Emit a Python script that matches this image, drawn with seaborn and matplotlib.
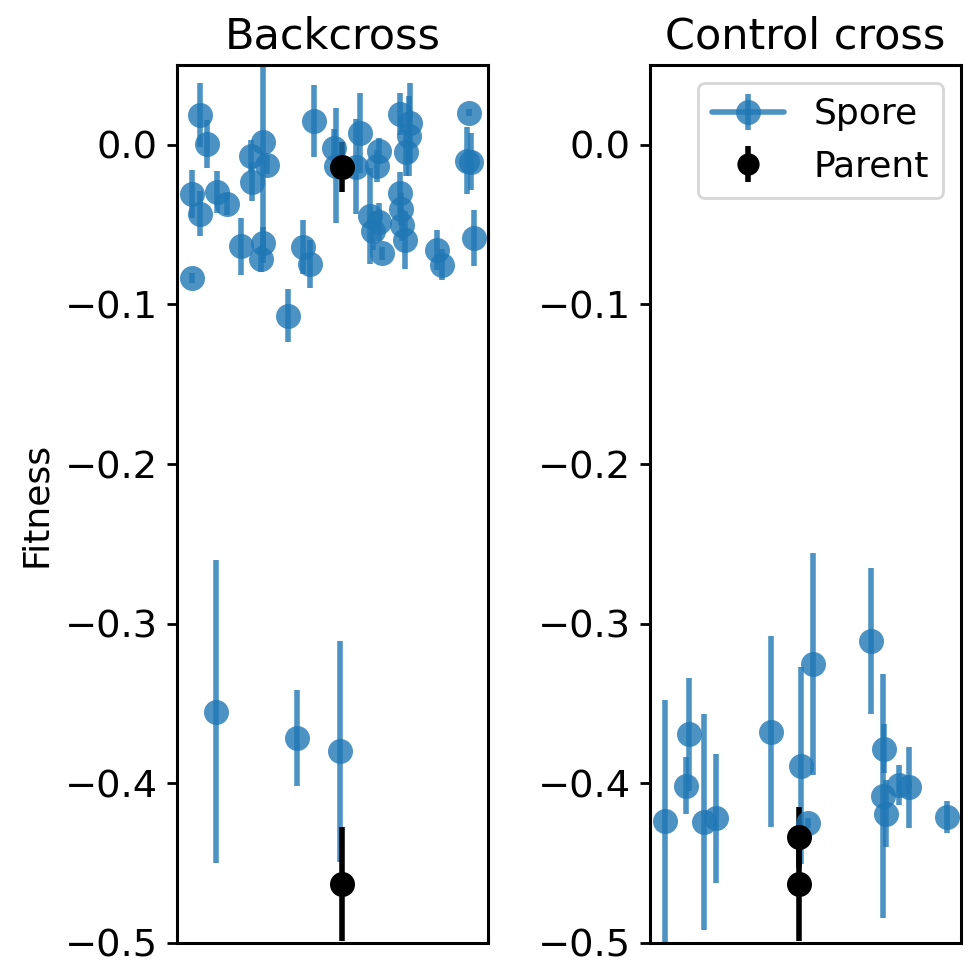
import numpy as np
import seaborn as sns
import matplotlib.pyplot as plt

# backcross spores: x position (jitter), fitness, error
bc_x = [0.074, 0.095, 0.047, 0.074, 0.129, 0.161, 0.049, 0.204, 0.237, 0.239,
        0.277, 0.288, 0.275, 0.268, 0.357, 0.403, 0.426, 0.440, 0.504, 0.510,
        0.574, 0.589, 0.648, 0.643, 0.619, 0.648, 0.629, 0.658, 0.715, 0.749,
        0.745, 0.736, 0.715, 0.720, 0.723, 0.731, 0.834, 0.852, 0.937, 0.931,
        0.943, 0.955, 0.124, 0.386, 0.522]
bc_fit = [0.0188, 0.0004, -0.0307, -0.0432, -0.0297, -0.0370, -0.0835, -0.0637, -0.0069, -0.0230,
          0.0020, -0.0125, -0.0616, -0.0716, -0.1070, -0.0640, -0.0746, 0.0150, -0.0020, -0.0130,
          -0.0136, 0.0073, -0.0036, -0.0130, -0.0445, -0.0484, -0.0537, -0.0680, 0.0194, 0.0136,
          0.0056, -0.0048, -0.0303, -0.0400, -0.0505, -0.0595, -0.0658, -0.0750, 0.0202, -0.0100,
          -0.0105, -0.0585, -0.3550, -0.3716, -0.3800]
bc_err = [0.020, 0.015, 0.015, 0.014, 0.013, 0.007, 0.003, 0.018, 0.010, 0.0125,
          0.076, 0.006, 0.010, 0.008, 0.0165, 0.017, 0.015, 0.0225, 0.012, 0.036,
          0.030, 0.025, 0.008, 0.010, 0.030, 0.012, 0.012, 0.004, 0.013, 0.025,
          0.025, 0.015, 0.013, 0.010, 0.010, 0.018, 0.0125, 0.010, 0.002, 0.021,
          0.018, 0.0177, 0.095, 0.030, 0.069]
bc_par_x = [0.531, 0.531]
bc_par_fit = [-0.014, -0.463]
bc_par_err = [0.0155, 0.0355]

# control cross spores
cc_x = [0.049, 0.115, 0.126, 0.172, 0.212, 0.390, 0.486, 0.523, 0.507,
        0.709, 0.752, 0.747, 0.757, 0.800, 0.832, 0.954]
cc_fit = [-0.4236, -0.4014, -0.3693, -0.4240, -0.4220, -0.3676, -0.3890, -0.3254, -0.4247,
          -0.3108, -0.3784, -0.4079, -0.4190, -0.4010, -0.4025, -0.4213]
cc_err = [0.0757, 0.018, 0.0354, 0.0677, 0.0405, 0.0597, 0.0618, 0.0694, 0.003,
          0.0456, 0.0154, 0.0762, 0.021, 0.0125, 0.0254, 0.010]
cc_par_x = [0.478, 0.478]
cc_par_fit = [-0.4338, -0.463]
cc_par_err = [0.019, 0.0355]

sns.set_theme(style="ticks", rc={
    "axes.edgecolor": "black", "axes.linewidth": 1.1,
    "xtick.color": "black", "ytick.color": "black",
    "ytick.major.size": 3.5, "ytick.major.width": 1.0,
    "axes.labelcolor": "black", "text.color": "black",
})
plt.rcParams['font.family'] = ['DejaVu Sans']
blue = sns.color_palette("tab10")[0]

fig, axes = plt.subplots(1, 2, figsize=(4.84, 4.82), dpi=200)
fig.subplots_adjust(left=0.183, right=0.993, bottom=0.0218, top=0.9326, wspace=0.52)

panels = [
    ("Backcross", bc_x, bc_fit, bc_err, bc_par_x, bc_par_fit, bc_par_err),
    ("Control cross", cc_x, cc_fit, cc_err, cc_par_x, cc_par_fit, cc_par_err),
]
for ax, (title, x, y, e, px, py, pe) in zip(axes, panels):
    ax.errorbar(x, y, yerr=e, fmt='o', color=blue, alpha=0.8, ms=9, mew=0,
                elinewidth=2, capsize=0)
    ax.errorbar(px, py, yerr=pe, fmt='o', color='black', ms=9, mew=0,
                elinewidth=2, capsize=0)
    ax.set_xlim(0, 1)
    ax.set_ylim(-0.5, 0.05)
    ax.set_xticks([])
    ax.set_yticks([-0.5, -0.4, -0.3, -0.2, -0.1, 0.0])
    ax.tick_params(axis='y', labelsize=13.8)
    ax.set_title(title, fontsize=15.5)

axes[0].set_ylabel("Fitness", fontsize=13)

# legend proxies
h1 = axes[1].errorbar([], [], yerr=[], fmt='-o', color=blue, alpha=0.8, ms=9, mew=0,
                      lw=2, capsize=0)
h2 = axes[1].errorbar([], [], yerr=[], fmt='o', color='black', ms=8, mew=0,
                      elinewidth=2, capsize=0)
axes[1].legend([h1, h2], ["Spore", "Parent"], loc='upper right', fontsize=13, frameon=True)

fig.savefig("out.png", dpi=200)
